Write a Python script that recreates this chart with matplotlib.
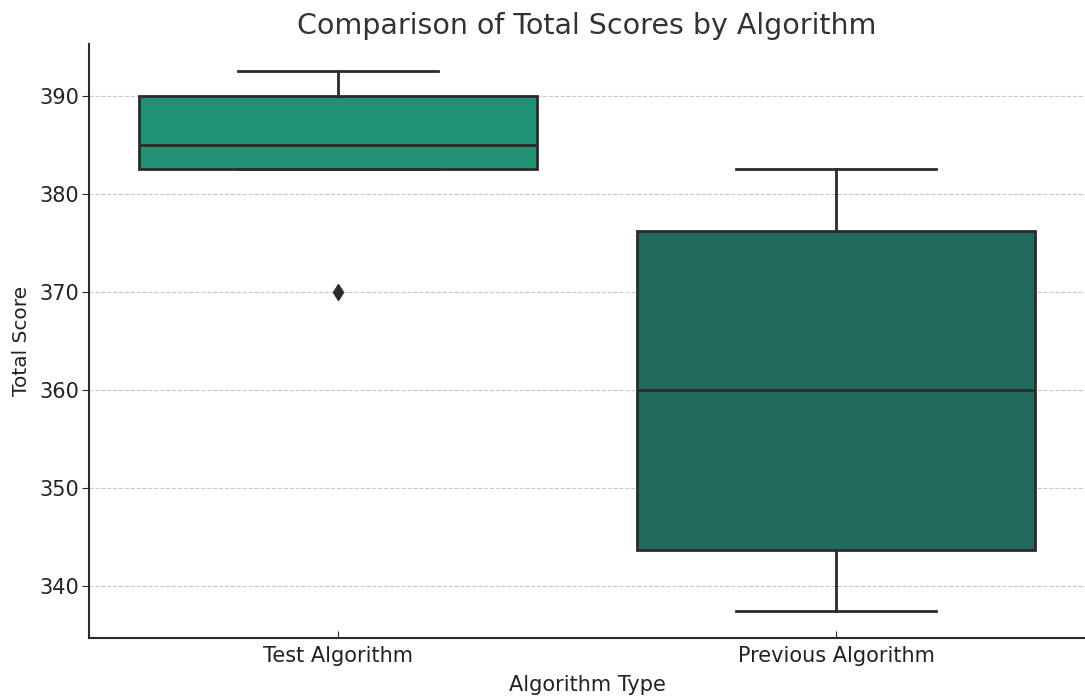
import matplotlib
matplotlib.use("Agg")
import matplotlib.pyplot as plt
import numpy as np

categories = ["Test Algorithm", "Previous Algorithm"]
test_scores = [370.0, 382.5, 382.5, 385.0, 390.0, 390.0, 392.5]
previous_scores = [337.5, 343.75, 360.0, 376.25, 382.5]
box_colors = ["#1f9274", "#226b5c"]
line_color = "#2b2b2b"

plt.rcParams["font.family"] = "DejaVu Sans"

fig = plt.figure(figsize=(10.85, 6.98), dpi=100)
ax = fig.add_axes([0.082, 0.086, 0.918, 0.851])

bp = ax.boxplot(
    [test_scores, previous_scores],
    positions=[0, 1],
    widths=0.8,
    patch_artist=True,
    whis=1.5,
    boxprops=dict(edgecolor=line_color, linewidth=2),
    medianprops=dict(color=line_color, linewidth=2),
    whiskerprops=dict(color=line_color, linewidth=2),
    capprops=dict(color=line_color, linewidth=2),
    flierprops=dict(marker="d", markerfacecolor=line_color,
                    markeredgecolor=line_color, markersize=8),
    capwidths=0.4,
    zorder=3,
)
for patch, c in zip(bp["boxes"], box_colors):
    patch.set_facecolor(c)

ax.set_xlim(-0.5, 1.5)
ax.set_xticks([0, 1])
ax.set_xticklabels(categories)
ax.set_yticks([340, 350, 360, 370, 380, 390])

ax.grid(axis="y", linestyle="--", color="#c8c8c8", linewidth=0.8, zorder=0)
ax.set_axisbelow(True)
for s in ["top", "right"]:
    ax.spines[s].set_visible(False)
for s in ["left", "bottom"]:
    ax.spines[s].set_color("#2b2b2b")
    ax.spines[s].set_linewidth(1.5)

ax.tick_params(axis="both", colors="#2b2b2b", labelcolor="#222222")
ax.tick_params(axis="x", direction="in", length=5, labelsize=15, pad=6)
ax.tick_params(axis="y", direction="out", length=5, labelsize=15, pad=2)

ax.set_title("Comparison of Total Scores by Algorithm", fontsize=20.5,
             color="#333333", pad=7)
ax.set_xlabel("Algorithm Type", fontsize=15, color="#222222", labelpad=6)
ax.set_ylabel("Total Score", fontsize=14.5, color="#222222", labelpad=6)

fig.savefig("out.png", dpi=100)
